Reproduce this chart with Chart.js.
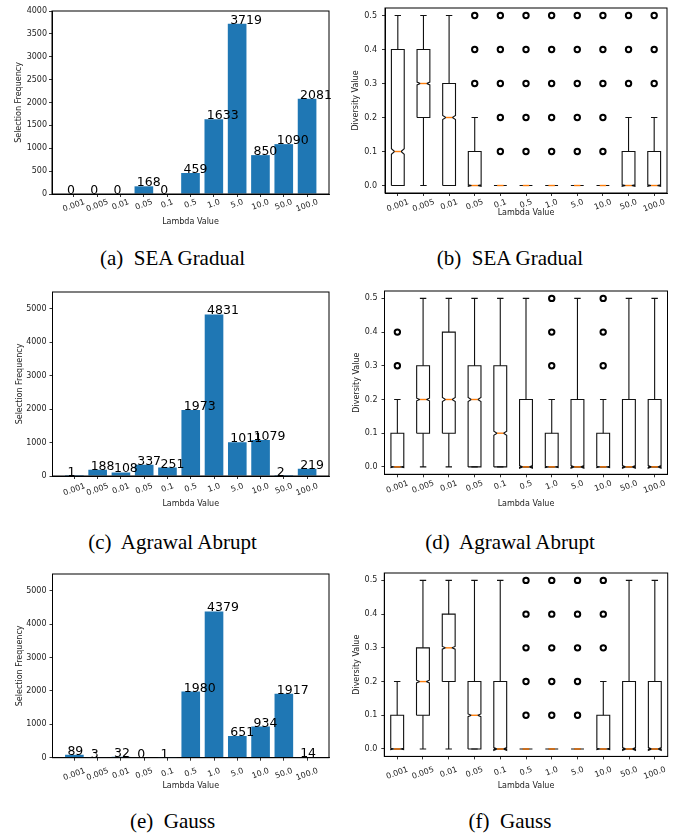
<!DOCTYPE html>
<html>
<head>
<meta charset="utf-8">
<script src="https://cdn.jsdelivr.net/npm/chart.js@4.4.1/dist/chart.umd.min.js"></script>
<style>
  body { margin: 0; background: #fff; width: 681px; height: 838px; position: relative; overflow: hidden; }
  canvas { position: absolute; }
  .cap { position: absolute; font: 21px 'Liberation Serif', 'Times New Roman', serif; line-height: 21px;
         text-align: center; white-space: pre; color: #000; }
</style>
</head>
<body>
<div class="cap" style="left:0;width:345px;top:248px">(a)  SEA Gradual</div>
<div class="cap" style="left:340px;width:340px;top:248px">(b)  SEA Gradual</div>
<div class="cap" style="left:0;width:345px;top:532px">(c)  Agrawal Abrupt</div>
<div class="cap" style="left:340px;width:340px;top:532px">(d)  Agrawal Abrupt</div>
<div class="cap" style="left:0;width:345px;top:811px">(e)  Gauss</div>
<div class="cap" style="left:340px;width:340px;top:811px">(f)  Gauss</div>

<script>
// ---- data ----
const lambdaLabels = ['0.001', '0.005', '0.01', '0.05', '0.1', '0.5', '1.0', '5.0', '10.0', '50.0', '100.0'];

// selection frequency (bar charts)
const seaFreq = [0, 0, 0, 168, 0, 459, 1633, 3719, 850, 1090, 2081];
const agrawalFreq = [1, 188, 108, 337, 251, 1973, 4831, 1011, 1079, 2, 219];
const gaussFreq = [89, 3, 32, 0, 1, 1980, 4379, 651, 934, 1917, 14];
const seaFreqTicks = [0, 500, 1000, 1500, 2000, 2500, 3000, 3500, 4000];
const freqTicks = [0, 1000, 2000, 3000, 4000, 5000];
const diversityTicks = [0, 0.1, 0.2, 0.3, 0.4, 0.5];

// diversity value (box plots)
const seaLow  = [0, 0, 0, 0, 0, 0, 0, 0, 0, 0, 0];
const seaQ1   = [0, 0.2, 0, 0, 0, 0, 0, 0, 0, 0, 0];
const seaMed  = [0.1, 0.3, 0.2, 0, 0, 0, 0, 0, 0, 0, 0];
const seaQ3   = [0.4, 0.4, 0.3, 0.1, 0, 0, 0, 0, 0, 0.1, 0.1];
const seaHigh = [0.5, 0.5, 0.5, 0.2, 0, 0, 0, 0, 0, 0.2, 0.2];
const seaOut  = [[], [], [], [0.3, 0.4, 0.5], [0.1, 0.2, 0.3, 0.4, 0.5], [0.1, 0.2, 0.3, 0.4, 0.5],
                 [0.1, 0.2, 0.3, 0.4, 0.5], [0.1, 0.2, 0.3, 0.4, 0.5], [0.1, 0.2, 0.3, 0.4, 0.5],
                 [0.3, 0.4, 0.5], [0.3, 0.4, 0.5]];

const agrLow  = [0, 0, 0, 0, 0, 0, 0, 0, 0, 0, 0];
const agrQ1   = [0, 0.1, 0.1, 0, 0, 0, 0, 0, 0, 0, 0];
const agrMed  = [0, 0.2, 0.2, 0.2, 0.1, 0, 0, 0, 0, 0, 0];
const agrQ3   = [0.1, 0.3, 0.4, 0.3, 0.3, 0.2, 0.1, 0.2, 0.1, 0.2, 0.2];
const agrHigh = [0.2, 0.5, 0.5, 0.5, 0.5, 0.5, 0.2, 0.5, 0.2, 0.5, 0.5];
const agrOut  = [[0.3, 0.4], [], [], [], [], [], [0.3, 0.4, 0.5], [], [0.3, 0.4, 0.5], [], []];

const gaussLow  = [0, 0, 0, 0, 0, 0, 0, 0, 0, 0, 0];
const gaussQ1   = [0, 0.1, 0.2, 0, 0, 0, 0, 0, 0, 0, 0];
const gaussMed  = [0, 0.2, 0.3, 0.1, 0, 0, 0, 0, 0, 0, 0];
const gaussQ3   = [0.1, 0.3, 0.4, 0.2, 0.2, 0, 0, 0, 0.1, 0.2, 0.2];
const gaussHigh = [0.2, 0.5, 0.5, 0.5, 0.5, 0, 0, 0, 0.2, 0.5, 0.5];
const gaussOut  = [[], [], [], [], [], [0.1, 0.2, 0.3, 0.4, 0.5], [0.1, 0.2, 0.3, 0.4, 0.5],
                   [0.1, 0.2, 0.3, 0.4, 0.5], [0.3, 0.4, 0.5], [], []];

// ---- layout (page px) ----
const CANVAS_H = 240, TOP_PAD = 12, XSCALE_H = 40;
const FONT = "'DejaVu Sans', sans-serif";
const TXT = '#222';
const NOTCH_N = 6000; // sample count used only for notch size

const panels = [
  { kind: 'bar', left: 0,   width: 340, L: 52,    R: 329,   T: 11,    B: 194,   yTitleX: 19,   gap: 5, lblTop: 5,  xTitle: 28,
    values: seaFreq, yTicks: seaFreqTicks, ymax: 4000 },
  { kind: 'box', left: 340, width: 341, L: 385,   R: 667,   T: 8,     B: 193,   yTitleX: 356,  gap: 8, lblTop: 6,  xTitle: 20,
    low: seaLow, q1: seaQ1, med: seaMed, q3: seaQ3, high: seaHigh, out: seaOut },
  { kind: 'bar', left: 0,   width: 340, L: 52.5,  R: 329,   T: 292,   B: 476,   yTitleX: 19.7, gap: 6, lblTop: 7,  xTitle: 27.7,
    values: agrawalFreq, yTicks: freqTicks, ymax: 5500 },
  { kind: 'box', left: 340, width: 341, L: 384.5, R: 667.5, T: 291,   B: 474.3, yTitleX: 357,  gap: 7, lblTop: 6,  xTitle: 29.7,
    low: agrLow, q1: agrQ1, med: agrMed, q3: agrQ3, high: agrHigh, out: agrOut },
  { kind: 'bar', left: 0,   width: 340, L: 52.5,  R: 329,   T: 574,   B: 757.7, yTitleX: 19.7, gap: 6, lblTop: 10, xTitle: 28.3,
    values: gaussFreq, yTicks: freqTicks, ymax: 5500 },
  { kind: 'box', left: 340, width: 341, L: 384.3, R: 667.7, T: 573.3, B: 756.7, yTitleX: 357,  gap: 7, lblTop: 10, xTitle: 29.5,
    low: gaussLow, q1: gaussQ1, med: gaussMed, q3: gaussQ3, high: gaussHigh, out: gaussOut },
];

// frame around plot area (matplotlib spines)
const framePlugin = {
  id: 'frame',
  afterDraw(chart) {
    const a = chart.chartArea, ctx = chart.ctx;
    ctx.save();
    ctx.strokeStyle = '#000';
    ctx.lineWidth = 1;
    ctx.strokeRect(a.left, a.top, a.right - a.left, a.bottom - a.top);
    ctx.restore();
  }
};

// rotated lambda tick labels, centred under each tick like matplotlib
function xLabelPlugin(p, first) {
  return {
    id: 'xlabels',
    afterDraw(chart) {
      const ctx = chart.ctx, xs = chart.scales.x, bottom = chart.chartArea.bottom;
      const ang = 20 * Math.PI / 180;
      ctx.save();
      ctx.font = '8px ' + FONT;
      ctx.fillStyle = TXT;
      ctx.textAlign = 'center';
      ctx.textBaseline = 'middle';
      lambdaLabels.forEach((lab, i) => {
        const w = ctx.measureText(lab).width;
        const h = w * Math.sin(ang) + 6 * Math.cos(ang);
        const px = xs.getPixelForValue(first + i);
        const py = bottom + p.lblTop + h / 2;
        ctx.save();
        ctx.translate(px, py);
        ctx.rotate(-ang);
        ctx.fillText(lab, 0, 0);
        ctx.restore();
      });
      ctx.restore();
    }
  };
}

// value labels on top of bars
const barLabelPlugin = {
  id: 'barlabels',
  afterDatasetsDraw(chart) {
    const ctx = chart.ctx, xs = chart.scales.x, ys = chart.scales.y;
    const vals = chart.data.datasets[0].data;
    ctx.save();
    ctx.font = '12.5px ' + FONT;
    ctx.fillStyle = '#000';
    ctx.textAlign = 'left';
    ctx.textBaseline = 'alphabetic';
    vals.forEach(d => {
      ctx.fillText(String(d.y), xs.getPixelForValue(d.x - 0.3), ys.getPixelForValue(d.y));
    });
    ctx.restore();
  }
};

// notched boxes, whiskers, caps and medians
function boxPlugin(p) {
  return {
    id: 'boxes',
    beforeDatasetsDraw(chart) {
      const ctx = chart.ctx, xs = chart.scales.x, ys = chart.scales.y;
      ctx.save();
      ctx.lineWidth = 1.1;
      ctx.strokeStyle = '#111';
      lambdaLabels.forEach((lab, i) => {
        const pos = i + 1;
        const bl = xs.getPixelForValue(pos - 0.25), br = xs.getPixelForValue(pos + 0.25);
        const cl = xs.getPixelForValue(pos - 0.125), cr = xs.getPixelForValue(pos + 0.125);
        const xm = xs.getPixelForValue(pos);
        const n = 1.57 * (p.q3[i] - p.q1[i]) / Math.sqrt(NOTCH_N);
        const m = p.med[i];
        const px = [bl, br, br, cr, br, br, bl, bl, cl, bl, bl];
        const py = [p.q1[i], p.q1[i], m - n, m, m + n, p.q3[i], p.q3[i], m + n, m, m - n, p.q1[i]];
        ctx.beginPath();
        px.forEach((x, k) => {
          const y = ys.getPixelForValue(py[k]);
          if (k === 0) ctx.moveTo(x, y); else ctx.lineTo(x, y);
        });
        ctx.stroke();
        // whiskers
        ctx.beginPath();
        ctx.moveTo(xm, ys.getPixelForValue(p.q1[i]));
        ctx.lineTo(xm, ys.getPixelForValue(p.low[i]));
        ctx.moveTo(xm, ys.getPixelForValue(p.q3[i]));
        ctx.lineTo(xm, ys.getPixelForValue(p.high[i]));
        // caps
        [p.low[i], p.high[i]].forEach(v => {
          const y = ys.getPixelForValue(v);
          ctx.moveTo(cl, y);
          ctx.lineTo(cr, y);
        });
        ctx.stroke();
        // median
        ctx.save();
        ctx.strokeStyle = '#ff7f0e';
        ctx.lineWidth = 1.4;
        ctx.beginPath();
        const ym = ys.getPixelForValue(m);
        ctx.moveTo(cl, ym);
        ctx.lineTo(cr, ym);
        ctx.stroke();
        ctx.restore();
      });
      ctx.restore();
    }
  };
}

function axisOpts(p, isX, min, max, ticks, extra) {
  const lh = 8 * 1.2;
  const o = {
    type: 'linear',
    min: min,
    max: max,
    offset: false,
    grid: { display: true, drawOnChartArea: false, drawTicks: true, tickLength: 3, color: '#000', lineWidth: 0.8, offset: false },
    border: { display: true, color: '#000', width: 1 },
    afterBuildTicks: s => { s.ticks = ticks.map(v => ({ value: v })); },
    title: { display: true, color: TXT, font: { family: FONT, size: 8 } }
  };
  if (isX) {
    o.ticks = { display: false };
    o.afterFit = s => { s.height = XSCALE_H; };
    o.title.text = 'Lambda Value';
    o.title.padding = { top: 0, bottom: XSCALE_H - p.xTitle - lh / 2 };
  } else {
    o.ticks = { color: TXT, font: { family: FONT, size: 8 }, padding: p.gap - 3, callback: extra };
    o.afterFit = s => { s.width = p.L - p.left; };
    o.title.padding = { top: p.yTitleX - p.left - lh / 2, bottom: 0 };
  }
  return o;
}

panels.forEach((p, idx) => {
  const cv = document.createElement('canvas');
  cv.width = p.width;
  cv.height = CANVAS_H;
  cv.style.left = p.left + 'px';
  cv.style.top = (p.T - TOP_PAD) + 'px';
  document.body.appendChild(cv);

  const layout = {
    padding: {
      left: 0,
      top: TOP_PAD,
      right: p.left + p.width - p.R,
      bottom: CANVAS_H - TOP_PAD - (p.B - p.T) - XSCALE_H
    }
  };

  let cfg;
  if (p.kind === 'bar') {
    const yAxis = axisOpts(p, false, 0, p.ymax, p.yTicks, v => String(v));
    yAxis.title.text = 'Selection Frequency';
    cfg = {
      type: 'bar',
      data: {
        datasets: [{
          data: p.values.map((v, i) => ({ x: i, y: v })),
          backgroundColor: '#1f77b4',
          borderWidth: 0,
          barPercentage: 0.8,
          categoryPercentage: 1.0
        }]
      },
      options: {
        responsive: false, animation: false, layout,
        plugins: { legend: { display: false }, tooltip: { enabled: false } },
        scales: {
          x: axisOpts(p, true, -0.94, 10.94, lambdaLabels.map((l, i) => i)),
          y: yAxis
        }
      },
      plugins: [barLabelPlugin, framePlugin, xLabelPlugin(p, 0)]
    };
  } else {
    const yAxis = axisOpts(p, false, -0.022, 0.522, diversityTicks, v => v.toFixed(1));
    yAxis.title.text = 'Diversity Value';
    const pts = [];
    p.out.forEach((arr, i) => arr.forEach(v => pts.push({ x: i + 1, y: v })));
    cfg = {
      type: 'scatter',
      data: {
        datasets: [{
          data: pts,
          pointRadius: 2.7,
          pointBorderWidth: 2,
          borderColor: '#000',
          backgroundColor: 'rgba(255,255,255,0)',
          pointStyle: 'circle'
        }]
      },
      options: {
        responsive: false, animation: false, layout,
        plugins: { legend: { display: false }, tooltip: { enabled: false } },
        scales: {
          x: axisOpts(p, true, 0.5, 11.5, lambdaLabels.map((l, i) => i + 1)),
          y: yAxis
        }
      },
      plugins: [boxPlugin(p), framePlugin, xLabelPlugin(p, 1)]
    };
  }
  new Chart(cv, cfg);
});
</script>
</body>
</html>
